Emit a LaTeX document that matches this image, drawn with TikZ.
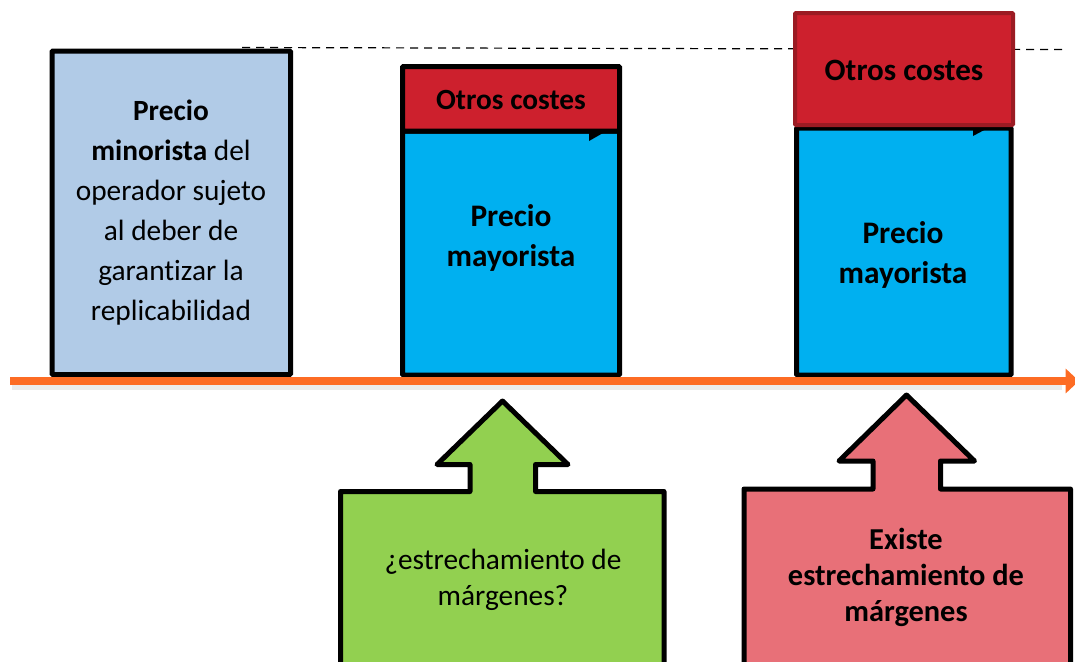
\documentclass[tikz,border=0pt]{standalone}
\usepackage{fontspec}
\setmainfont{Carlito}[Ligatures=NoCommon]
\usetikzlibrary{arrows.meta}
\definecolor{retailcol}{RGB}{177,203,231}
\definecolor{wholecol}{RGB}{0,176,240}
\definecolor{costcol}{RGB}{205,32,45}
\definecolor{costedge}{RGB}{155,27,35}
\definecolor{axiscol}{RGB}{253,108,36}
\definecolor{greencol}{RGB}{146,208,80}
\definecolor{pinkcol}{RGB}{232,112,120}

\begin{document}
\begin{tikzpicture}[x=0.75pt,y=-0.75pt,
    box/.style={draw=black, line width=3.75pt, rounded corners=0.75pt},
    callout/.style={draw=black, line width=3.75pt, line join=round},
    boxtext/.style={align=center, inner sep=0pt, font=\fontsize{22}{30}\selectfont},
    calltext/.style={align=center, inner sep=0pt, font=\fontsize{22}{27}\selectfont}]

    \useasboundingbox (0,0) rectangle (1075,661);
    \clip (0,0) rectangle (1075,661);

    % Dashed reference line
    \coordinate (dashstart) at (242,47.5);
    \coordinate (dashend) at (1062,49.5);
    \draw[dash pattern=on 6pt off 4.5pt, line width=0.9pt] (dashstart) -- (dashend);

    % Retail price box
    \draw[box, fill=retailcol] (52,51) rectangle (290.5,374.5);
    \node[boxtext] (retail) at (171,213)
        {\textbf{Precio}\\\textbf{minorista} del\\operador sujeto\\al deber de\\garantizar la\\replicabilidad};

    % Middle column: wholesale price plus other costs
    \draw[box, fill=wholecol] (402.5,131) rectangle (619.5,375);
    \draw[box, fill=costcol] (402.5,66.5) rectangle (619.5,131);
    \fill (589,133) -- (589,141) -- (603,133) -- cycle;
    \node[boxtext, font=\fontsize{22}{30}\selectfont\bfseries] (costA) at (511,100) {Otros costes};
    \node[boxtext, font=\fontsize{23.5}{30}\selectfont\bfseries] (wholeA) at (511,238) {Precio\\mayorista};

    % Right column: costes above the retail price
    \draw[box, fill=wholecol] (796.5,128) rectangle (1011,375);
    \fill (973,128) -- (973,136) -- (988,128) -- cycle;
    \draw[box, draw=costedge, line width=3pt, fill=costcol] (795,13) rectangle (1013,125);
    \node[boxtext, font=\fontsize{23.3}{30}\selectfont\bfseries] (costB) at (904,70) {Otros costes};
    \node[boxtext, font=\fontsize{23.5}{30}\selectfont\bfseries] (wholeB) at (903,255) {Precio\\mayorista};

    % Axis with shadow
    \coordinate (axisstart) at (10,381);
    \coordinate (axisend) at (1079,381);
    \draw[black!8, line width=5pt] (12,387) -- (1062,387);
    \draw[axiscol, line width=6pt, -{Triangle[length=10pt,width=18pt]}] (axisstart) -- (axisend);

    % Up arrows
    \draw[callout, fill=greencol] (340.5,675) -- (340.5,491.5) -- (470,491.5) -- (470,464.5)
        -- (437,464.5) -- (502.5,401) -- (568,464.5) -- (535.5,464.5) -- (535.5,491.5)
        -- (664,491.5) -- (664,675) -- cycle;
    \node[calltext] (question) at (503,580) {¿estrechamiento de\\márgenes?};

    \draw[callout, fill=pinkcol] (744,675) -- (744,489) -- (873,489) -- (873,461)
        -- (839,461) -- (906.5,395) -- (974.5,461) -- (940.5,461) -- (940.5,489)
        -- (1070.5,489) -- (1070.5,675) -- cycle;
    \node[calltext, font=\fontsize{22.8}{27}\selectfont\bfseries] (squeeze) at (906,577)
        {Existe\\estrechamiento de\\márgenes};

\end{tikzpicture}
\end{document}
